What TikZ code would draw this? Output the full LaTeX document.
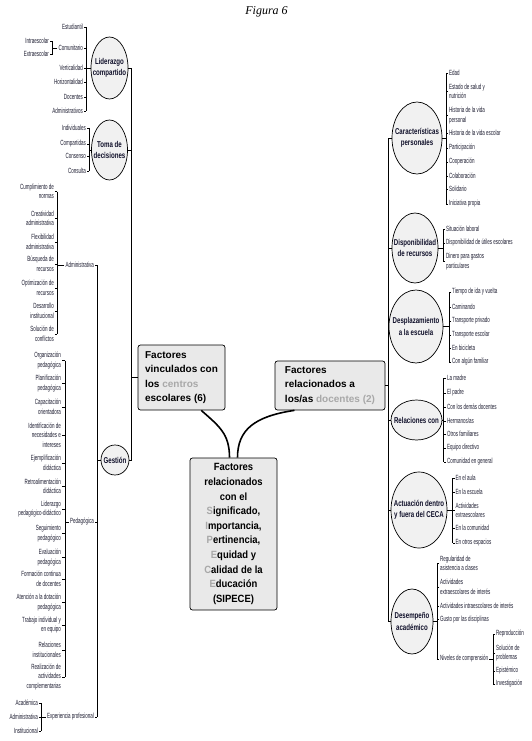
\documentclass[tikz,border=0pt]{standalone}
\usepackage{fontspec}
\usetikzlibrary{shapes.geometric}
\newfontfamily\leaffont[FakeStretch=0.6]{Liberation Sans}
\newfontfamily\topicfont[FakeStretch=0.72]{Liberation Sans}
\newfontfamily\corefont[FakeStretch=0.9]{Liberation Sans}
\newfontfamily\boxfont{Liberation Sans}
\newfontfamily\titlefont{Liberation Serif}
\definecolor{boxfill}{HTML}{E9E9E9}
\definecolor{topicfill}{HTML}{F1F1F1}
\definecolor{topicink}{HTML}{10102A}
\definecolor{leafink}{HTML}{1C1C30}
\definecolor{softgray}{HTML}{A8A8A8}
\newcommand{\gl}[1]{\textcolor{softgray}{#1}}

\begin{document}
\begin{tikzpicture}[x=1pt,y=-1pt]
\tikzset{lleaf/.style={anchor=east,align=right,inner sep=1pt,text=leafink,font=\leaffont\fontsize{7.5}{9.5}\selectfont},
  rleaf/.style={anchor=west,align=left,inner sep=1pt,text=leafink,font=\leaffont\fontsize{7.5}{9.5}\selectfont},
  topic/.style={ellipse,draw,line width=0.7pt,fill=topicfill,inner sep=0pt},
  ttext/.style={align=center,text=topicink,font=\topicfont\bfseries\fontsize{8.5}{11.5}\selectfont},
  box/.style={draw,rounded corners=2.5pt,fill=boxfill,line width=0.7pt,inner sep=0pt,align=left,font=\boxfont\bfseries\fontsize{10}{14.5}\selectfont},
  spine/.style={line width=0.9pt},brace/.style={line width=0.6pt}}
\useasboundingbox (0,0) rectangle (532,741);
\node[font=\titlefont\itshape\fontsize{12}{14}\selectfont] (title) at (266.5,12) {Figura 6};

% centro
\node[box,minimum width=87pt,minimum height=65pt] (fv) at (181.5,377.5) {Factores\\vinculados con\\los \gl{centros}\\escolares (6)};
\node[box,minimum width=110pt,minimum height=49pt] (fd) at (330,385.5) {Factores\\relacionados a\\los/as \gl{docentes (2)}};
\node[box,align=center,minimum width=87pt,minimum height=152pt,font=\corefont\bfseries\fontsize{10.5}{14.6}\selectfont] (fc) at (233.5,534) {Factores\\relacionados\\con el\\\gl{S}ignificado,\\\gl{I}mportancia,\\\gl{P}ertinencia,\\\gl{E}quidad y\\\gl{C}alidad de la\\\gl{E}ducación\\(SIPECE)};
\draw[line width=1.6pt] (fv.-59) .. controls +(18,16) and +(0,-24) .. (fc.93);
\draw[line width=1.6pt] (fd.-145) .. controls +(-40,6) and +(0,-28) .. (fc.87);

% lado izquierdo
\node[topic,minimum width=37pt,minimum height=62pt,label={[ttext]center:{Liderazgo\\compartido}}] (lid) at (109.5,68) {};
\node[topic,minimum width=36pt,minimum height=60pt,label={[ttext]center:{Toma de\\decisiones}}] (tom) at (109.5,150) {};
\node[topic,minimum width=28pt,minimum height=30pt,label={[ttext]center:Gestión}] (ges) at (115,460) {};
\coordinate (spL) at (131,0);
\draw[spine] (lid.east) -- (lid.east -| spL) -- (ges.east -| spL) -- (ges.east);
\draw[spine] (tom.east) -- (tom.east -| spL);\draw[spine] (fv.west) -- (fv.west -| spL);

\coordinate (bkLid) at (86,0);
\foreach \n/\y/\t in {1/27/Estudiantil,2/48/Comunitario,3/68/Verticalidad,4/82/Horizontalidad,5/97/Docentes,6/111/Administrativos}{\node[lleaf] (lid\n) at (84,\y) {\t};}
\draw[brace] (lid1.east -| bkLid) -- (lid6.east -| bkLid);\draw[brace] (lid.west) -- (lid.west -| bkLid);
\foreach \i in {1,...,6}{\draw[brace] (lid\i.east) -- (lid\i.east -| bkLid);}

\coordinate (bkCom) at (52,0);
\node[lleaf] (com1) at (50,41) {Intraescolar};\node[lleaf] (com2) at (50,54) {Extraescolar};
\draw[brace] (com1.east) -- (com1.east -| bkCom) -- (com2.east -| bkCom) -- (com2.east);
\draw[brace] (lid2.west) -- (lid2.west -| bkCom);

\coordinate (bkTom) at (89,0);
\foreach \n/\y/\t in {1/128/Individuales,2/144/Compartidas,3/156/Consenso,4/171/Consulta}{\node[lleaf] (tom\n) at (87,\y) {\t};}
\draw[brace] (tom1.east -| bkTom) -- (tom4.east -| bkTom);\draw[brace] (tom.west) -- (tom.west -| bkTom);
\foreach \i in {1,...,4}{\draw[brace] (tom\i.east) -- (tom\i.east -| bkTom);}

\coordinate (bkGes) at (97,0);
\node[lleaf] (ges1) at (95,265) {Administrativa};\node[lleaf] (ges2) at (95,522) {Pedagógica};\node[lleaf] (ges3) at (95,717) {Experiencia profesional};
\draw[brace] (ges1.east -| bkGes) -- (ges3.east -| bkGes);\draw[brace] (ges.west) -- (ges.west -| bkGes);
\foreach \i in {1,...,3}{\draw[brace] (ges\i.east) -- (ges\i.east -| bkGes);}

\coordinate (bkAdm) at (57,0);
\foreach \n/\y/\t in {1/191.5/{Cumplimiento de\\normas},2/218.5/{Creatividad\\administrativa},3/242/{Flexibilidad\\administrativa},4/264/{Búsqueda de\\recursos},5/288/{Optimización de\\recursos},6/311/{Desarrollo\\institucional},7/334/{Solución de\\conflictos}}{\node[lleaf] (adm\n) at (55,\y) {\t};}
\draw[brace] (adm1.east -| bkAdm) -- (adm7.east -| bkAdm);\draw[brace] (ges1.west) -- (ges1.west -| bkAdm);
\foreach \i in {1,...,7}{\draw[brace] (adm\i.east) -- (adm\i.east -| bkAdm);}

\coordinate (bkPed) at (65,0);
\foreach \n/\y/\t in {1/360.5/{Organización\\pedagógica},2/383.5/{Planificación\\pedagógica},3/407/{Capacitación\\orientadora},4/435/{Identificación de\\necesidades e\\intereses},5/463/{Ejemplificación\\didáctica},6/486.5/{Retroalimentación\\didáctica},7/509/{Liderazgo\\pedagógico-didáctico},8/533.5/{Seguimiento\\pedagógico},9/557.5/{Evaluación\\pedagógica},10/579/{Formación continua\\de docentes},11/602.5/{Atención a la dotación\\pedagógica},12/625/{Trabajo individual y\\en equipo},13/650/{Relaciones\\institucionales},14/677/{Realización de\\actividades\\complementarias}}{\node[lleaf] (ped\n) at (62,\y) {\t};}
\draw[brace] (ped1.east -| bkPed) -- (ped14.east -| bkPed);\draw[brace] (ges2.west) -- (ges2.west -| bkPed);
\foreach \i in {1,...,14}{\draw[brace] (ped\i.east) -- (ped\i.east -| bkPed);}

\coordinate (bkExp) at (41,0);
\foreach \n/\y/\t in {1/703/Académica,2/717/Administrativa,3/731/Institucional}{\node[lleaf] (exp\n) at (39,\y) {\t};}
\draw[brace] (exp1.east -| bkExp) -- (exp3.east -| bkExp);\draw[brace] (ges3.west) -- (ges3.west -| bkExp);
\foreach \i in {1,...,3}{\draw[brace] (exp\i.east) -- (exp\i.east -| bkExp);}

% lado derecho
\node[topic,minimum width=50pt,minimum height=72pt,label={[ttext]center:{Características\\personales}}] (car) at (417,138) {};
\node[topic,minimum width=46pt,minimum height=70pt,label={[ttext]center:{Disponibilidad\\de recursos}}] (dis) at (415,248) {};
\node[topic,minimum width=54pt,minimum height=73pt,label={[ttext]center:{Desplazamiento\\a la escuela}}] (dsp) at (416,326.5) {};
\node[topic,minimum width=51pt,minimum height=40pt,label={[ttext]center:{Relaciones con}}] (rel) at (416.5,420) {};
\node[topic,minimum width=56pt,minimum height=76pt,label={[ttext]center:{Actuación dentro\\y fuera del CECA}}] (act) at (419,510) {};
\node[topic,minimum width=42pt,minimum height=65pt,label={[ttext]center:{Desempeño\\académico}}] (dem) at (412,621.5) {};
\coordinate (spR) at (388,0);
\draw[spine] (car.west) -- (car.west -| spR) -- (dem.west -| spR) -- (dem.west);
\foreach \e in {dis,dsp,rel,act}{\draw[spine] (\e.west) -- (\e.west -| spR);}
\draw[spine] (fd.east) -- (fd.east -| spR);

\coordinate (bkCar) at (446,0);
\foreach \n/\y/\t in {1/73/Edad,2/91.5/{Estado de salud y\\nutrición},3/115.5/{Historia de la vida\\personal},4/133/Historia de la vida escolar,5/148/Participación,6/162/Cooperación,7/176/Colaboración,8/189/Solidario,9/204/Iniciativa propia}{\node[rleaf] (car\n) at (448,\y) {\t};}
\draw[brace] (car1.west -| bkCar) -- (car9.west -| bkCar);\draw[brace] (car.east) -- (car.east -| bkCar);
\foreach \i in {1,...,9}{\draw[brace] (car\i.west) -- (car\i.west -| bkCar);}

\coordinate (bkDis) at (443,0);
\foreach \n/\y/\t in {1/229/Situación laboral,2/243/Disponibilidad de útiles escolares,3/261.5/{Dinero para gastos\\particulares}}{\node[rleaf] (dis\n) at (445,\y) {\t};}
\draw[brace] (dis1.west -| bkDis) -- (dis3.west -| bkDis);\draw[brace] (dis.east) -- (dis.east -| bkDis);
\foreach \i in {1,...,3}{\draw[brace] (dis\i.west) -- (dis\i.west -| bkDis);}

\coordinate (bkDsp) at (449,0);
\foreach \n/\y/\t in {1/292/Tiempo de ida y vuelta,2/307/Caminando,3/321/Transporte privado,4/335/Transporte escolar,5/348/En bicicleta,6/362/Con algún familiar}{\node[rleaf] (dsp\n) at (451,\y) {\t};}
\draw[brace] (dsp1.west -| bkDsp) -- (dsp6.west -| bkDsp);\draw[brace] (dsp.east) -- (dsp.east -| bkDsp);
\foreach \i in {1,...,6}{\draw[brace] (dsp\i.west) -- (dsp\i.west -| bkDsp);}

\coordinate (bkRel) at (443.5,0);
\foreach \n/\y/\t in {1/378/La madre,2/393/El padre,3/407/Con los demás docentes,5/434/Otros familiares,6/448/Equipo directivo,7/462/Comunidad en general}{\node[rleaf] (rel\n) at (446,\y) {\t};}
\node[rleaf] (rel4) at (446,421) {Hermanos/as};
\draw[brace] (rel1.west -| bkRel) -- (rel7.west -| bkRel);\draw[brace] (rel.east) -- (rel.east -| bkRel);
\foreach \i in {1,...,7}{\draw[brace] (rel\i.west) -- (rel\i.west -| bkRel);}

\coordinate (bkAct) at (452.5,0);
\foreach \n/\y/\t in {1/478/En el aula,2/492/En la escuela,3/510.5/{Actividades\\extraescolares},4/528/En la comunidad,5/543/En otros espacios}{\node[rleaf] (act\n) at (454.5,\y) {\t};}
\draw[brace] (act1.west -| bkAct) -- (act5.west -| bkAct);\draw[brace] (act.east) -- (act.east -| bkAct);
\foreach \i in {1,...,5}{\draw[brace] (act\i.west) -- (act\i.west -| bkAct);}

\coordinate (bkDem) at (437,0);
\foreach \n/\y/\t in {1/563.5/{Regularidad de\\asistencia a clases},2/587/{Actividades\\extraescolares de interés},3/606/Actividades intraescolares de interés,4/619.5/Gusto por las disciplinas,5/659/Niveles de comprensión}{\node[rleaf] (dem\n) at (439,\y) {\t};}
\draw[brace] (dem1.west -| bkDem) -- (dem5.west -| bkDem);\draw[brace] (dem.east) -- (dem.east -| bkDem);
\foreach \i in {1,...,5}{\draw[brace] (dem\i.west) -- (dem\i.west -| bkDem);}

\coordinate (bkNiv) at (493,0);
\foreach \n/\y/\t in {1/634/Reproducción,2/653/{Solución de\\problemas},3/671/Epistémico,4/684/Investigación}{\node[rleaf] (niv\n) at (495,\y) {\t};}
\draw[brace] (niv1.west -| bkNiv) -- (niv4.west -| bkNiv);\draw[brace] (dem5.east) -- (dem5.east -| bkNiv);
\foreach \i in {1,...,4}{\draw[brace] (niv\i.west) -- (niv\i.west -| bkNiv);}
\end{tikzpicture}
\end{document}
